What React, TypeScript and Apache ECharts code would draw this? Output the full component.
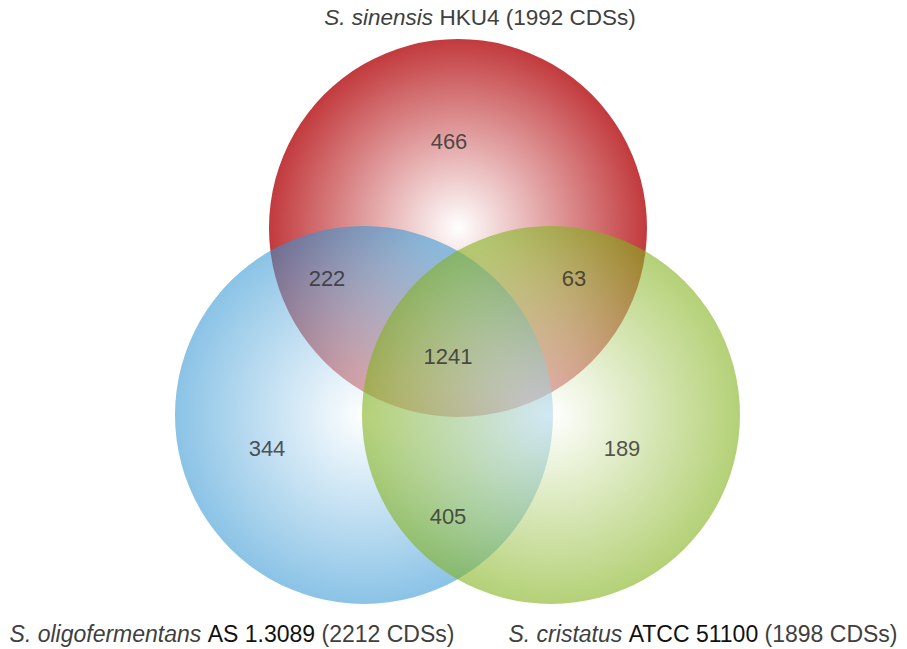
import React, { useEffect, useRef } from "react";
import * as echarts from "echarts";

// Sets (circles)
const setNames = ["S. sinensis HKU4", "S. oligofermentans AS 1.3089", "S. cristatus ATCC 51100"];
const setTotals = [1992, 2212, 1898];

// Region counts
const regionNames = ["sinensis only", "sinensis ∩ oligofermentans", "sinensis ∩ cristatus", "all three", "oligofermentans only", "cristatus only", "oligofermentans ∩ cristatus"];
const regionCounts = [466, 222, 63, 1241, 344, 189, 405];

// Layout (chart units)
const circleCenters = [
  [458, 228],
  [364, 415],
  [551, 415],
];
const circleRadius = 189;
const regionLabelPos = [
  [449, 141],
  [327, 278],
  [574, 278],
  [448, 356],
  [267, 448],
  [622, 448],
  [448, 516],
];

const circleColors = ["#c23a3d", "#3094d2", "#82b21c"];
const circleOpacity = [1, 0.56, 0.6];

const FONT = "'Liberation Sans', Arial, Helvetica, sans-serif";

export default function App() {
  const ref = useRef<HTMLDivElement>(null);
  useEffect(() => {
    if (!ref.current) return;
    const chart = echarts.init(ref.current, null, { renderer: "svg" });
    const circleData = circleCenters.map((c, i) => ({ name: setNames[i], value: [c[0], c[1], circleRadius] }));
    const labelData = regionCounts.map((v, i) => ({ name: regionNames[i], value: [regionLabelPos[i][0], regionLabelPos[i][1], v] }));
    const mkStyle = (size: number) => ({
      fontSize: size,
      fontFamily: FONT,
      fontWeight: "normal" as const,
      color: "#404040",
      rich: {
        i: { fontStyle: "italic", fontSize: size, fontFamily: FONT, color: "#404040" },
        b: { fontSize: size, fontFamily: FONT, color: "#111111" },
      },
    });
    chart.setOption({
      animation: false,
      title: [
        {
          text: `{i|S. sinensis} HKU4 (${setTotals[0]} CDSs)`,
          left: 480,
          top: 6,
          textAlign: "center",
          padding: 0,
          textStyle: mkStyle(22.5),
        },
        {
          text: `{i|S. oligofermentans} {b|AS 1.3089} (${setTotals[1]} CDSs)`,
          left: 232,
          top: 622,
          textAlign: "center",
          padding: 0,
          textStyle: mkStyle(23),
        },
        {
          text: `{i|S. cristatus} {b|ATCC 51100} (${setTotals[2]} CDSs)`,
          left: 703,
          top: 622,
          textAlign: "center",
          padding: 0,
          textStyle: mkStyle(23),
        },
      ],
      grid: { left: 0, right: 0, top: 0, bottom: 0 },
      xAxis: { type: "value", min: 0, max: 907, show: false },
      yAxis: { type: "value", min: 0, max: 649, inverse: true, show: false },
      series: [
        {
          type: "custom",
          data: circleData,
          silent: true,
          renderItem: (params: any, api: any) => {
            const c = api.coord([api.value(0), api.value(1)]);
            const r = api.size([api.value(2), 0])[0];
            const i = params.dataIndex;
            return {
              type: "circle",
              shape: { cx: c[0], cy: c[1], r },
              style: {
                fill: new echarts.graphic.RadialGradient(0.5, 0.5, 0.5, [
                  { offset: 0, color: "#ffffff" },
                  { offset: 1, color: circleColors[i] },
                ]),
                opacity: circleOpacity[i],
              },
            };
          },
        },
        {
          type: "scatter",
          data: labelData,
          symbolSize: 0,
          silent: true,
          label: {
            show: true,
            position: "inside",
            formatter: (p: any) => String(p.value[2]),
            fontSize: 22,
            fontFamily: FONT,
            color: "#2b2b2b",
          },
        },
      ],
    });
    return () => chart.dispose();
  }, []);
  return <div ref={ref} style={{ position: "absolute", left: 0, top: 0, width: 907, height: 649 }} />;
}
